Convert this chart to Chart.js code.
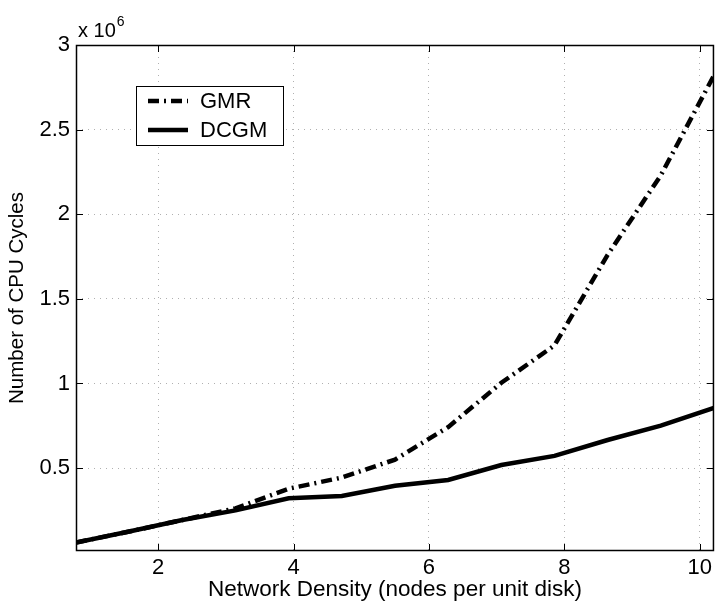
<!DOCTYPE html>
<html><head><meta charset="utf-8">
<script src="https://cdn.jsdelivr.net/npm/chart.js@4/dist/chart.umd.min.js"></script>
<style>html,body{margin:0;padding:0;background:#fff}canvas{display:block}</style>
</head><body>
<canvas id="c" width="716" height="604"></canvas>
<script>
// ---- data ----
const densities = [0.785, 1.571, 2.356, 3.142, 3.927, 4.712, 5.498, 6.283, 7.069, 7.854, 8.639, 9.425, 10.21];
const gmrCycles = [60000, 125000, 193000, 262000, 378000, 444000, 550000, 742000, 1004000, 1225000, 1760000, 2230000, 2820000];
const dcgmCycles = [60000, 125000, 193000, 250000, 322000, 335000, 395000, 430000, 518000, 572000, 666000, 751000, 856000];
const seriesNames = ['GMR', 'DCGM'];
const xTicks = [2, 4, 6, 8, 10];
const xTickLabels = ['2', '4', '6', '8', '10'];
const yTicks = [500000, 1000000, 1500000, 2000000, 2500000, 3000000];
const yTickLabels = ['0.5', '1', '1.5', '2', '2.5', '3'];
const xTitle = 'Network Density (nodes per unit disk)';
const yTitle = 'Number of CPU Cycles';
const yExponent = ['x 10', '6'];

const FONT = '"Liberation Sans", Arial, Helvetica, sans-serif';

const toPoints = (xs, ys) => xs.map((x, i) => ({x: x, y: ys[i]}));

const frame = {
  id: 'frame',
  afterDatasetsDraw(chart) {
    const {ctx, chartArea: a, scales} = chart;
    ctx.save();
    ctx.strokeStyle = '#000';
    ctx.lineWidth = 1.5;
    ctx.strokeRect(a.left + 0.5, a.top + 0.5, a.right - a.left - 1, a.bottom - a.top - 1);
    const tl = 7;
    ctx.lineWidth = 1;
    ctx.beginPath();
    xTicks.forEach(v => {
      const px = Math.round(scales.x.getPixelForValue(v)) + 0.5;
      ctx.moveTo(px, a.bottom); ctx.lineTo(px, a.bottom - tl);
      ctx.moveTo(px, a.top); ctx.lineTo(px, a.top + tl);
    });
    yTicks.forEach(v => {
      const py = Math.round(scales.y.getPixelForValue(v)) + 0.5;
      ctx.moveTo(a.left, py); ctx.lineTo(a.left + tl, py);
      ctx.moveTo(a.right, py); ctx.lineTo(a.right - tl, py);
    });
    ctx.stroke();

    // exponent label
    ctx.fillStyle = '#000';
    ctx.textBaseline = 'alphabetic';
    ctx.textAlign = 'left';
    ctx.font = '20px ' + FONT;
    const ex = a.left + 2, ey = a.top - 8;
    ctx.fillText(yExponent[0], ex, ey);
    const w = ctx.measureText(yExponent[0]).width;
    ctx.font = '14px ' + FONT;
    ctx.fillText(yExponent[1], ex + w + 1, ey - 11);

    // legend box
    const lx = a.left + 60, ly = a.top + 41, lw = 147, lh = 59;
    ctx.fillStyle = '#fff';
    ctx.fillRect(lx, ly, lw, lh);
    ctx.strokeStyle = '#000';
    ctx.lineWidth = 1;
    ctx.strokeRect(lx + 0.5, ly + 0.5, lw, lh);
    chart.data.datasets.forEach((ds, i) => {
      const yy = ly + 15 + i * 29;
      ctx.save();
      ctx.strokeStyle = ds.borderColor;
      ctx.lineWidth = ds.borderWidth;
      ctx.setLineDash(ds.borderDash || []);
      ctx.beginPath();
      ctx.moveTo(lx + 12, yy); ctx.lineTo(lx + 52, yy);
      ctx.stroke();
      ctx.restore();
      ctx.fillStyle = '#000';
      ctx.font = '22px ' + FONT;
      ctx.textBaseline = 'middle';
      ctx.fillText(ds.label, lx + 64, yy + 1);
    });
    ctx.restore();
  }
};

new Chart(document.getElementById('c'), {
  type: 'line',
  data: {
    datasets: [
      {label: seriesNames[0], data: toPoints(densities, gmrCycles), borderColor: '#000', borderWidth: 4.5,
       borderDash: [11, 5, 2, 5], pointRadius: 0, tension: 0, fill: false},
      {label: seriesNames[1], data: toPoints(densities, dcgmCycles), borderColor: '#000', borderWidth: 4.5,
       pointRadius: 0, tension: 0, fill: false}
    ]
  },
  options: {
    responsive: false,
    animation: false,
    devicePixelRatio: 1,
    layout: {padding: {top: 45, right: 1, left: 0, bottom: 0}},
    plugins: {legend: {display: false}, tooltip: {enabled: false}},
    scales: {
      x: {
        type: 'linear', min: densities[0], max: densities[densities.length - 1],
        afterBuildTicks: s => { s.ticks = xTicks.map(v => ({value: v})); },
        afterFit: s => { s.height = 53; },
        grid: {color: '#b0b0b0', lineWidth: 1, drawTicks: false},
        border: {display: false, dash: [1, 5]},
        ticks: {color: '#000', padding: 4, maxRotation: 0, autoSkip: false, font: {family: FONT, size: 22},
                callback: (v, i) => xTickLabels[i]},
        title: {display: true, text: xTitle, color: '#000', font: {family: FONT, size: 22.5}, padding: {top: 0, bottom: 1}}
      },
      y: {
        type: 'linear', min: 10000, max: 3000000,
        afterBuildTicks: s => { s.ticks = yTicks.map(v => ({value: v})); },
        afterFit: s => { s.width = 76; },
        grid: {color: '#b0b0b0', lineWidth: 1, drawTicks: false},
        border: {display: false, dash: [1, 5]},
        ticks: {color: '#000', padding: 6, autoSkip: false, font: {family: FONT, size: 22},
                callback: (v, i) => yTickLabels[i]},
        title: {display: true, text: yTitle, color: '#000', font: {family: FONT, size: 20.5}, padding: {top: 5, bottom: 0}}
      }
    }
  },
  plugins: [frame]
});
</script>
</body></html>
